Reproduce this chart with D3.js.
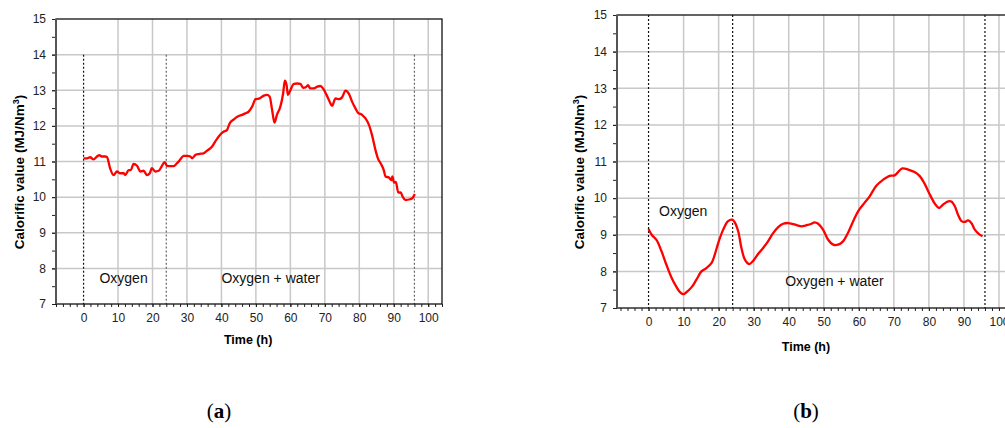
<!DOCTYPE html>
<html>
<head>
<meta charset="utf-8">
<script src="https://cdn.jsdelivr.net/npm/d3@7/dist/d3.min.js"></script>
<style>
  body { margin: 0; background: #fff; }
  svg { display: block; }
  .tick text { font-family: Arial, "Liberation Sans", sans-serif; font-size: 12px; fill: #222; }
</style>
</head>
<body>
<svg id="chart" width="1005" height="428"></svg>
<script>
// (a) oxygen, then oxygen + water
const timeA = [0, 1, 1.9, 2.9, 3.9, 4.6, 5.3, 6.3, 6.8, 7.7, 8.7, 9.7, 10.6, 11.6, 12.1, 13.1, 13.7, 14.5, 15.5, 16.5,
  17.4, 18.4, 19.2, 19.8, 20.8, 21.8, 22.7, 23.5, 24.2, 25.2, 26.1, 27.1, 28.1, 29, 30, 31, 31.5, 32.4, 33.4, 34.8,
  35.8, 37.3, 38.2, 39.5, 40.7, 41.6, 42.4, 43.6, 44.7, 46, 46.9, 47.9, 48.9, 49.9, 51.1, 52.3, 53.2, 54, 54.7, 55.4,
  56.1, 57.1, 57.9, 58.4, 58.9, 59.3, 60, 61, 62, 62.9, 63.7, 64.4, 65.1, 65.8, 66.8, 67.8, 68.7, 69.5, 70.5, 71.4,
  72.1, 73.1, 74.1, 75, 76, 77, 77.9, 78.9, 79.6, 80.8, 81.8, 82.8, 83.7, 84.7, 85.4, 86.3, 87.1, 87.6, 88.6, 89.3,
  89.6, 90.1, 90.6, 91.3, 92, 92.6, 93.4, 94.7, 95.4, 96.1];
const valueA = [11.09, 11.09, 11.12, 11.06, 11.14, 11.18, 11.14, 11.14, 11.12, 10.81, 10.62, 10.72, 10.67, 10.67, 10.62, 10.76, 10.76, 10.93, 10.88, 10.72,
  10.74, 10.62, 10.67, 10.81, 10.72, 10.74, 10.87, 10.98, 10.88, 10.87, 10.87, 10.95, 11.06, 11.16, 11.16, 11.14, 11.09, 11.18, 11.21, 11.23,
  11.3, 11.42, 11.56, 11.74, 11.84, 11.88, 12.07, 12.18, 12.26, 12.31, 12.35, 12.4, 12.54, 12.75, 12.77, 12.85, 12.87, 12.82, 12.45, 12.09,
  12.31, 12.54, 12.91, 13.27, 13.15, 12.87, 13.0, 13.18, 13.19, 13.18, 13.07, 13.08, 13.14, 13.05, 13.05, 13.1, 13.12, 13.05, 12.87, 12.68,
  12.56, 12.77, 12.75, 12.8, 12.99, 12.9, 12.68, 12.49, 12.37, 12.31, 12.21, 12.03, 11.74, 11.32, 11.09, 10.93, 10.76, 10.58, 10.55, 10.48,
  10.58, 10.41, 10.43, 10.13, 10.13, 10.01, 9.92, 9.94, 9.97, 10.09];

// (b)
const timeB = [0, 0.9, 2.3, 3.7, 5.1, 6.6, 8, 8.9, 9.9, 10.8, 12.3, 13.7, 15.1, 16.5, 18, 18.9, 19.9, 21.3, 22.7, 23.9,
  24.6, 25.6, 26.5, 27.5, 28.7, 29.8, 31.3, 32.7, 34.1, 35.6, 37, 38.4, 39.8, 41.3, 42.7, 43.6, 45.1, 46.5, 47.4, 48.4,
  49.8, 51.2, 52.7, 54.1, 55.5, 56.9, 58.4, 59.8, 61.2, 63.1, 65, 66.9, 68.8, 70.2, 71.2, 72.4, 74.1, 75.9, 77.4, 78.8,
  80.2, 81.7, 82.9, 84, 85.5, 86.4, 87.4, 88.3, 89.3, 90.2, 91.2, 92.1, 93.1, 94.3, 95.3];
const valueB = [9.16, 9.0, 8.85, 8.55, 8.18, 7.82, 7.57, 7.44, 7.38, 7.43, 7.57, 7.78, 8.0, 8.09, 8.23, 8.46, 8.78, 9.14, 9.37, 9.41,
  9.34, 9.09, 8.64, 8.32, 8.2, 8.28, 8.48, 8.64, 8.82, 9.05, 9.21, 9.3, 9.32, 9.29, 9.25, 9.23, 9.26, 9.3, 9.34, 9.3,
  9.14, 8.87, 8.73, 8.73, 8.82, 9.05, 9.37, 9.64, 9.82, 10.05, 10.34, 10.5, 10.61, 10.62, 10.71, 10.81, 10.78, 10.71, 10.6, 10.39,
  10.11, 9.85, 9.73, 9.82, 9.91, 9.91, 9.78, 9.55, 9.37, 9.35, 9.39, 9.32, 9.14, 9.02, 8.96];

const xMajor = [0, 10, 20, 30, 40, 50, 60, 70, 80, 90, 100];
const yMajor = [7, 8, 9, 10, 11, 12, 13, 14, 15];
const phaseMarks = [0, 24, 96];

const svg = d3.select('#chart');

function drawPanel(opt) {
  const x = d3.scaleLinear().domain(opt.xDomain).range([opt.left, opt.right]);
  const y = d3.scaleLinear().domain([7, 15]).range([opt.bottom, opt.top]);
  const g = svg.append('g');

  // grid
  g.selectAll('.vgrid').data(xMajor.filter((d) => d > 0))
    .enter().append('line')
    .attr('x1', (d) => x(d)).attr('x2', (d) => x(d))
    .attr('y1', opt.top).attr('y2', opt.bottom)
    .attr('stroke', '#c8c8c8').attr('stroke-width', 1.5);
  g.selectAll('.hgrid').data(yMajor.filter((d) => d > 7 && d < 15))
    .enter().append('line')
    .attr('x1', opt.left).attr('x2', opt.right)
    .attr('y1', (d) => y(d)).attr('y2', (d) => y(d))
    .attr('stroke', '#c8c8c8').attr('stroke-width', 1.5);

  // dotted phase markers
  g.selectAll('.phase').data(phaseMarks)
    .enter().append('line')
    .attr('x1', (d) => x(d)).attr('x2', (d) => x(d))
    .attr('y1', y(opt.markTop)).attr('y2', opt.bottom)
    .attr('stroke', (d, i) => (i === 0 || opt.allBlack ? '#111' : '#666'))
    .attr('stroke-width', 1.2)
    .attr('stroke-dasharray', '2,2');

  // axes
  const xMinor = d3.range(-8, 105, 2);
  const yMinor = d3.range(7, 15.01, 0.5);
  g.append('g').attr('transform', `translate(0,${opt.bottom})`)
    .call(d3.axisBottom(x).tickValues(xMinor).tickSize(3).tickFormat(''))
    .call((a) => a.select('.domain').remove());
  g.append('g').attr('transform', `translate(0,${opt.bottom})`)
    .call(d3.axisBottom(x).tickValues(xMajor).tickSize(3).tickPadding(6).tickFormat(d3.format('d')))
    .call((a) => a.select('.domain').remove());
  g.append('g').attr('transform', `translate(${opt.left},0)`)
    .call(d3.axisLeft(y).tickValues(yMinor).tickSize(4).tickFormat(''))
    .call((a) => a.select('.domain').remove());
  g.append('g').attr('transform', `translate(${opt.left},0)`)
    .call(d3.axisLeft(y).tickValues(yMajor).tickSize(4).tickPadding(6).tickFormat(d3.format('d')))
    .call((a) => a.select('.domain').remove());
  g.selectAll('.tick line').attr('stroke', '#222');

  // frame
  g.append('rect')
    .attr('x', opt.left).attr('y', opt.top)
    .attr('width', opt.right - opt.left).attr('height', opt.bottom - opt.top)
    .attr('fill', 'none').attr('stroke', '#111').attr('stroke-width', 1.3);
  g.append('line')
    .attr('x1', opt.left).attr('x2', opt.left).attr('y1', opt.top).attr('y2', opt.bottom)
    .attr('stroke', '#555').attr('stroke-width', 2);

  // data line
  g.append('path')
    .datum(opt.times.map((t, i) => [t, opt.values[i]]))
    .attr('fill', 'none')
    .attr('stroke', '#ff0000')
    .attr('stroke-width', 2.3)
    .attr('stroke-linejoin', 'round')
    .attr('d', d3.line().x((d) => x(d[0])).y((d) => y(d[1])).curve(opt.curve));

  // labels
  g.append('text')
    .attr('x', (opt.left + x(100)) / 2 + opt.timeShift).attr('y', opt.timeY)
    .attr('text-anchor', 'middle')
    .style('font-family', 'Arial, "Liberation Sans", sans-serif')
    .style('font-weight', 'bold').style('font-size', '12.5px')
    .text('Time (h)');

  const yt = g.append('text')
    .attr('transform', `translate(${opt.yTitleX},172) rotate(-90)`)
    .attr('text-anchor', 'middle')
    .style('font-family', 'Arial, "Liberation Sans", sans-serif')
    .style('font-weight', 'bold').style('font-size', '13.5px');
  yt.append('tspan').text('Calorific value (MJ/Nm');
  yt.append('tspan').attr('dy', -5).style('font-size', '9px').text('3');
  yt.append('tspan').attr('dy', 5).text(')');

  opt.notes.forEach((n) => {
    g.append('text')
      .attr('x', x(n.t)).attr('y', y(n.v))
      .style('font-family', 'Arial, "Liberation Sans", sans-serif')
      .style('font-size', '14px').attr('fill', '#111')
      .text(n.label);
  });

  svg.append('text')
    .attr('x', (opt.left + x(100)) / 2 + opt.capShift).attr('y', 418)
    .attr('text-anchor', 'middle')
    .style('font-family', '"Liberation Serif", "DejaVu Serif", serif')
    .style('font-size', '21px')
    .call((t) => {
      t.append('tspan').text('(');
      t.append('tspan').style('font-weight', 'bold').text(opt.caption);
      t.append('tspan').text(')');
    });
}

drawPanel({
  left: 56, right: 442, top: 19, bottom: 304,
  xDomain: [-8, 104],
  times: timeA, values: valueA,
  curve: d3.curveMonotoneX,
  markTop: 14, allBlack: false,
  timeY: 344, timeShift: 6, yTitleX: 24, capShift: -23,
  notes: [
    { t: 4.6, v: 7.58, label: 'Oxygen' },
    { t: 40, v: 7.58, label: 'Oxygen + water' },
  ],
  caption: 'a',
});

drawPanel({
  left: 617, right: 1013, top: 15, bottom: 308,
  xDomain: [-9, 104],
  times: timeB, values: valueB,
  curve: d3.curveCatmullRom,
  markTop: 15, allBlack: true,
  timeY: 351, timeShift: -2, yTitleX: 584, capShift: -2,
  notes: [
    { t: 3, v: 9.5, label: 'Oxygen' },
    { t: 39, v: 7.6, label: 'Oxygen + water' },
  ],
  caption: 'b',
});
</script>
</body>
</html>
